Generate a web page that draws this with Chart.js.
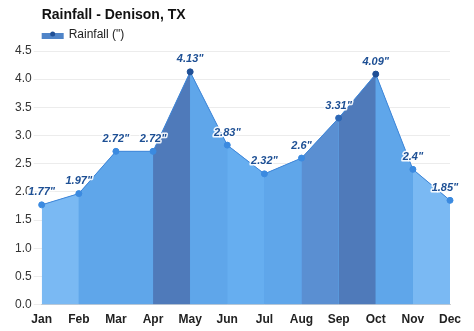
<!DOCTYPE html>
<html>
<head>
<meta charset="utf-8">
<script src="https://cdn.jsdelivr.net/npm/chart.js@4"></script>
<style>
  html, body { margin: 0; padding: 0; background: #fff; }
  #wrap { width: 474px; height: 331px; }
</style>
</head>
<body>
<div id="wrap"><canvas id="rain"></canvas></div>
<script>
// data
const months = ["Jan", "Feb", "Mar", "Apr", "May", "Jun", "Jul", "Aug", "Sep", "Oct", "Nov", "Dec"];
const rainfall = [1.77, 1.97, 2.72, 2.72, 4.13, 2.83, 2.32, 2.6, 3.31, 4.09, 2.4, 1.85];
const rainLabels = ['1.77"', '1.97"', '2.72"', '2.72"', '4.13"', '2.83"', '2.32"', '2.6"', '3.31"', '4.09"', '2.4"', '1.85"'];
const chartTitle = "Rainfall - Denison, TX";
const seriesName = 'Rainfall (")';

// band colours between months
const bandColors = ["#7ab9f3", "#5fa6ea", "#5fa6ea", "#4f7aba", "#5fa6ea", "#66aef0",
                    "#5fa6ea", "#5a8fd2", "#4f7aba", "#5fa6ea", "#7ab9f3"];
const pointColors = ["#3b8ae0", "#3b8ae0", "#3b8ae0", "#3b8ae0", "#1f4f96", "#3b8ae0",
                     "#3b8ae0", "#3b8ae0", "#2c67b6", "#1f4f96", "#3b8ae0", "#3b8ae0"];
const FONT = "'Liberation Sans', Arial, sans-serif";

// title + legend drawn by hand so they line up with the plot
const header = {
  id: "header",
  afterDraw(chart) {
    const ctx = chart.ctx;
    const left = chart.chartArea.left;
    ctx.save();
    ctx.fillStyle = "#111";
    ctx.font = "bold 14px " + FONT;
    ctx.textBaseline = "middle";
    ctx.fillText(chartTitle, left, 15);
    // legend symbol
    ctx.fillStyle = "#4f84c8";
    ctx.fillRect(left, 33, 22, 6);
    ctx.fillStyle = "#1f4f96";
    ctx.beginPath();
    ctx.arc(left + 11, 34, 2.5, 0, Math.PI * 2);
    ctx.fill();
    ctx.fillStyle = "#222";
    ctx.font = "12px " + FONT;
    ctx.fillText(seriesName, left + 27, 35);
    ctx.restore();
  }
};

// value labels above the points
const valueLabels = {
  id: "valueLabels",
  afterDatasetsDraw(chart) {
    const ctx = chart.ctx;
    const meta = chart.getDatasetMeta(1);
    ctx.save();
    ctx.font = "italic bold 11px " + FONT;
    ctx.textAlign = "center";
    ctx.textBaseline = "bottom";
    ctx.lineJoin = "round";
    meta.data.forEach((pt, i) => {
      let x = pt.x;
      if (i === meta.data.length - 1) x -= 5;
      const y = pt.y - 7;
      ctx.lineWidth = 3;
      ctx.strokeStyle = "rgba(255,255,255,0.9)";
      ctx.strokeText(rainLabels[i], x, y);
      ctx.fillStyle = "#1d4f94";
      ctx.fillText(rainLabels[i], x, y);
    });
    ctx.restore();
  }
};

new Chart(document.getElementById("rain"), {
  type: "line",
  data: {
    labels: months,
    datasets: [{
      // underlay so band seams do not show white
      label: "base",
      data: rainfall,
      fill: "origin",
      borderWidth: 0,
      backgroundColor: "#5fa6ea",
      pointRadius: 0,
      order: 2
    }, {
      label: seriesName,
      data: rainfall,
      fill: "origin",
      borderColor: "#3f86d8",
      borderWidth: 1,
      backgroundColor: "#4f7aba",
      pointRadius: 3,
      pointBackgroundColor: pointColors,
      pointBorderColor: pointColors,
      tension: 0,
      order: 1,
      segment: {
        backgroundColor: c => bandColors[c.p0DataIndex]
      }
    }]
  },
  options: {
    responsive: true,
    maintainAspectRatio: false,
    animation: false,
    layout: { padding: { left: 13, right: 24, top: 51, bottom: 4 } },
    plugins: {
      title: { display: false },
      legend: { display: false },
      tooltip: { enabled: false }
    },
    scales: {
      x: {
        offset: false,
        grid: { display: false },
        border: { color: "#d0d0d0" },
        ticks: {
          color: "#222",
          padding: 0,
          font: { family: FONT, size: 12, weight: "bold" }
        }
      },
      y: {
        min: 0,
        max: 4.5,
        grid: { color: "#ececec" },
        border: { display: false },
        ticks: {
          stepSize: 0.5,
          color: "#333",
          padding: 2,
          font: { family: FONT, size: 12 },
          callback: v => v.toFixed(1)
        }
      }
    }
  },
  plugins: [valueLabels, header]
});
</script>
</body>
</html>
